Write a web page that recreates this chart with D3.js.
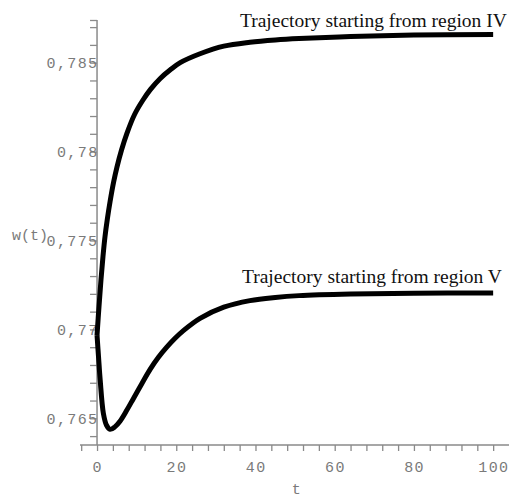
<!DOCTYPE html>
<html>
<head>
<meta charset="utf-8">
<script src="https://cdn.jsdelivr.net/npm/d3@7"></script>
<style>
  body { margin: 0; background: #fff; }
  .tick-label { font-family: "Liberation Mono", monospace; font-size: 15px; fill: #7a7a7a; letter-spacing: 1.4px; }
  .note { font-family: "Liberation Serif", serif; font-size: 19.5px; fill: #111; }
</style>
</head>
<body>
<script>
// Trajectory from region IV
var tIV = [0, 0.5, 1.0, 1.5, 2.0, 2.6, 3.3, 4.2, 5.0, 6.2, 7.5, 9.5, 11.6, 13.5, 15.9, 18.5,
           21, 26, 32, 38.6, 45, 51, 64, 80, 100];
var wIV = [0.76968, 0.7713, 0.7728, 0.7741, 0.7752, 0.7762, 0.7772, 0.7783, 0.7791, 0.7801,
           0.781, 0.7821, 0.7829, 0.7835, 0.7841, 0.7846, 0.785, 0.7855, 0.78593, 0.78615,
           0.78628, 0.78636, 0.78647, 0.78655, 0.78658];

// Trajectory from region V
var tV = [0, 0.4, 0.8, 1.6, 2.4, 3.3, 4.5, 5.8, 7.5, 9.2, 11.3, 13.4, 15.5, 17.6, 19.7, 21.8,
          26, 32, 38.6, 45, 51, 64, 80, 100];
var wV = [0.76968, 0.76838, 0.76714, 0.76528, 0.76461, 0.76438, 0.76452, 0.76484, 0.76545,
          0.76612, 0.76695, 0.76775, 0.76843, 0.769, 0.7695, 0.76993, 0.77062, 0.77125,
          0.77162, 0.7718, 0.7719, 0.77199, 0.77204, 0.77205];

// Tick labels
var xLabels = [0, 20, 40, 60, 80, 100];
var yLabels = ["0,765", "0,77", "0,775", "0,78", "0,785"];
var yLabelVals = [0.765, 0.77, 0.775, 0.78, 0.785];

var width = 509, height = 500;

var xScale = d3.scaleLinear().domain([-4.3, 104]).range([80, 509]);
var yScale = d3.scaleLinear().domain([0.7635, 0.7874]).range([445, 20]);

var svg = d3.select("body")
    .append("svg")
        .attr("width", width)
        .attr("height", height);

var axisColor = "#8a8a8a";

// X axis (ticks every 4, pointing down)
var xAxis = svg.append("g")
    .attr("transform", "translate(0," + yScale(0.7635) + ")")
    .call(d3.axisBottom(xScale).tickValues(d3.range(-4, 101, 4)).tickSize(6).tickFormat(""));
xAxis.select(".domain").attr("stroke", axisColor).attr("stroke-width", 1.5).attr("d", "M80,0H509");
xAxis.selectAll(".tick line").attr("stroke", axisColor).attr("stroke-width", 1.3);

// Y axis (ticks every 0.001, pointing left)
var yTickVals = d3.range(764, 788, 1).map(function (d) { return d / 1000; }).concat([0.7874]);
var yAxis = svg.append("g")
    .attr("transform", "translate(" + xScale(0) + ",0)")
    .call(d3.axisLeft(yScale).tickValues(yTickVals).tickSize(7).tickFormat(""));
yAxis.select(".domain").attr("stroke", axisColor).attr("stroke-width", 1.5).attr("d", "M0,445V20");
yAxis.selectAll(".tick line").attr("stroke", axisColor).attr("stroke-width", 1.3);

// Tick labels
svg.selectAll(".xlab")
    .data(xLabels)
    .enter().append("text")
    .attr("class", "tick-label")
    .attr("x", function (d) { return xScale(d) + 0.7; })
    .attr("y", 472)
    .attr("text-anchor", "middle")
    .text(function (d) { return d; });

svg.selectAll(".ylab")
    .data(yLabelVals)
    .enter().append("text")
    .attr("class", "tick-label")
    .attr("x", xScale(0) + 1.5)
    .attr("y", function (d) { return yScale(d); })
    .attr("dy", "0.35em")
    .attr("text-anchor", "end")
    .text(function (d, i) { return yLabels[i]; });

// Axis titles
svg.append("text")
    .attr("class", "tick-label")
    .style("letter-spacing", "0px")
    .attr("x", 12)
    .attr("y", 240)
    .text("w(t)");

svg.append("text")
    .attr("class", "tick-label")
    .attr("x", 297)
    .attr("y", 494)
    .attr("text-anchor", "middle")
    .text("t");

// Curves
var line = d3.line()
    .x(function (d) { return xScale(d[0]); })
    .y(function (d) { return yScale(d[1]); })
    .curve(d3.curveCatmullRom.alpha(0.5));

[[tIV, wIV], [tV, wV]].forEach(function (s) {
    svg.append("path")
        .datum(d3.zip(s[0], s[1]))
        .attr("fill", "none")
        .attr("stroke", "#000")
        .attr("stroke-width", 5)
        .attr("stroke-linejoin", "round")
        .attr("d", line);
});

// Annotations
svg.append("text")
    .attr("class", "note")
    .attr("x", 240)
    .attr("y", 27)
    .text("Trajectory starting from region IV");

svg.append("text")
    .attr("class", "note")
    .attr("x", 242)
    .attr("y", 283)
    .text("Trajectory starting from region V");
</script>
</body>
</html>
